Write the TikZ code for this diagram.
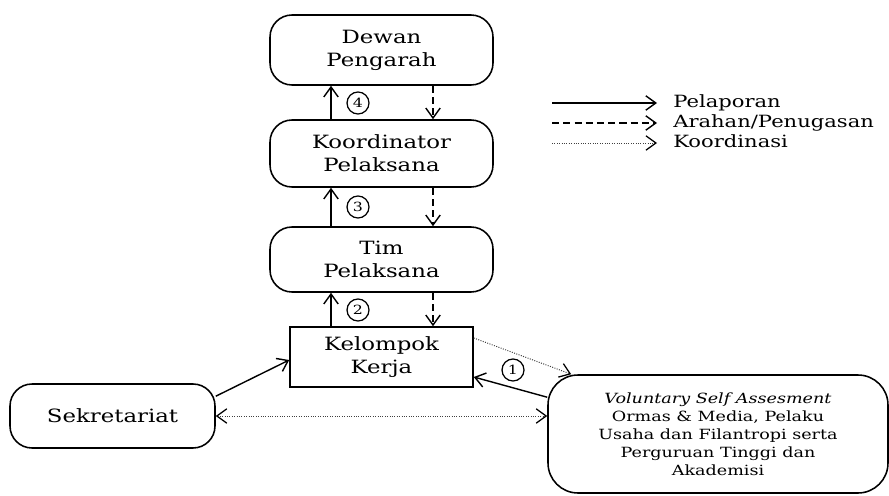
\documentclass[tikz,border=0pt]{standalone}
\usepackage{fontspec}
\setmainfont{DejaVu Serif}[FakeStretch=1.25]
\usetikzlibrary{arrows.meta}

\begin{document}
\begin{tikzpicture}[
	kotak/.style={draw, line width=1.1pt, rounded corners=0.55cm, align=center, inner sep=0pt, font=\fontsize{13}{16.5}\selectfont},
	lapor/.style={-{Straight Barb[length=2.5mm,width=3.6mm]}, line width=1pt},
	arah/.style={lapor, dash pattern=on 5pt off 3pt},
	koor/.style={-{Straight Barb[length=2.5mm,width=3.6mm,color=black,line width=0.9pt]}, densely dotted, line width=0.7pt, black!75},
	nomor/.style={draw, circle, line width=0.9pt, minimum size=0.55cm, inner sep=0pt, font=\fontsize{9}{9}\selectfont},
	ket/.style={anchor=west, inner sep=0pt, text height=1.6ex, text depth=0.4ex, font=\fontsize{12}{14}\selectfont}
]
	\useasboundingbox (0,0) rectangle (22.225,12.375);

	\node[kotak, minimum width=5.575cm, minimum height=1.75cm] (dewan) at (9.5375,11.125) {Dewan\\Pengarah};
	\node[kotak, minimum width=5.575cm, minimum height=1.675cm] (koord) at (9.5375,8.5375) {Koordinator\\Pelaksana};
	\node[kotak, minimum width=5.575cm, minimum height=1.625cm] (tim) at (9.5375,5.8875) {Tim\\Pelaksana};
	\node[kotak, rounded corners=0pt, minimum width=4.575cm, minimum height=1.5cm] (kelompok) at (9.5375,3.45) {Kelompok\\Kerja};
	\node[kotak, minimum width=5.125cm, minimum height=1.6cm] (sekretariat) at (2.8125,1.975) {Sekretariat};
	\node[kotak, rounded corners=0.75cm, minimum width=8.5cm, minimum height=2.95cm, font=\fontsize{10}{12.8}\selectfont] (voluntary) at (17.95,1.525) {\textit{Voluntary Self Assesment}\\Ormas \& Media, Pelaku\\Usaha dan Filantropi serta\\Perguruan Tinggi dan\\Akademisi};

	\draw[lapor] ([xshift=-1.2625cm]koord.north) -- ([xshift=-1.2625cm]dewan.south);
	\draw[lapor] ([xshift=-1.2625cm]tim.north) -- ([xshift=-1.2625cm]koord.south);
	\draw[lapor] ([xshift=-1.2625cm]kelompok.north) -- ([xshift=-1.2625cm]tim.south);
	\draw[arah] ([xshift=1.2875cm]dewan.south) -- ([xshift=1.2875cm]koord.north);
	\draw[arah] ([xshift=1.2875cm]koord.south) -- ([xshift=1.2875cm]tim.north);
	\draw[arah] ([xshift=1.2875cm]tim.south) -- ([xshift=1.2875cm]kelompok.north);

	\node[nomor] (n4) at (8.95,9.8) {4};
	\node[nomor] (n3) at (8.95,7.2) {3};
	\node[nomor] (n2) at (8.95,4.625) {2};
	\node[nomor] (n1) at (12.825,3.125) {1};

	\draw[lapor] ([yshift=-0.325cm]sekretariat.north east) -- ([yshift=-0.075cm]kelompok.west);
	\draw[lapor] ([yshift=-0.575cm]voluntary.north west) -- ([yshift=-0.5cm]kelompok.east);
	\draw[koor] ([yshift=0.475cm]kelompok.east) -- ([xshift=0.6cm]voluntary.north west);
	\draw[koor, {Straight Barb[length=2.5mm,width=3.6mm,color=black,line width=0.9pt]}-{Straight Barb[length=2.5mm,width=3.6mm,color=black,line width=0.9pt]}] (sekretariat.east) -- (sekretariat.east -| voluntary.west);

	\coordinate (a1) at (13.8,9.8);
	\coordinate (a2) at (13.8,9.3);
	\coordinate (a3) at (13.8,8.8);
	\node[ket] (pelaporan) at (16.825,9.8) {Pelaporan};
	\node[ket] (arahan) at (16.825,9.3) {Arahan/Penugasan};
	\node[ket] (koordinasi) at (16.825,8.8) {Koordinasi};
	\draw[lapor] (a1) -- ([xshift=-0.4cm]pelaporan.west);
	\draw[arah] (a2) -- ([xshift=-0.4cm]arahan.west);
	\draw[koor] (a3) -- ([xshift=-0.4cm]koordinasi.west);
\end{tikzpicture}
\end{document}
